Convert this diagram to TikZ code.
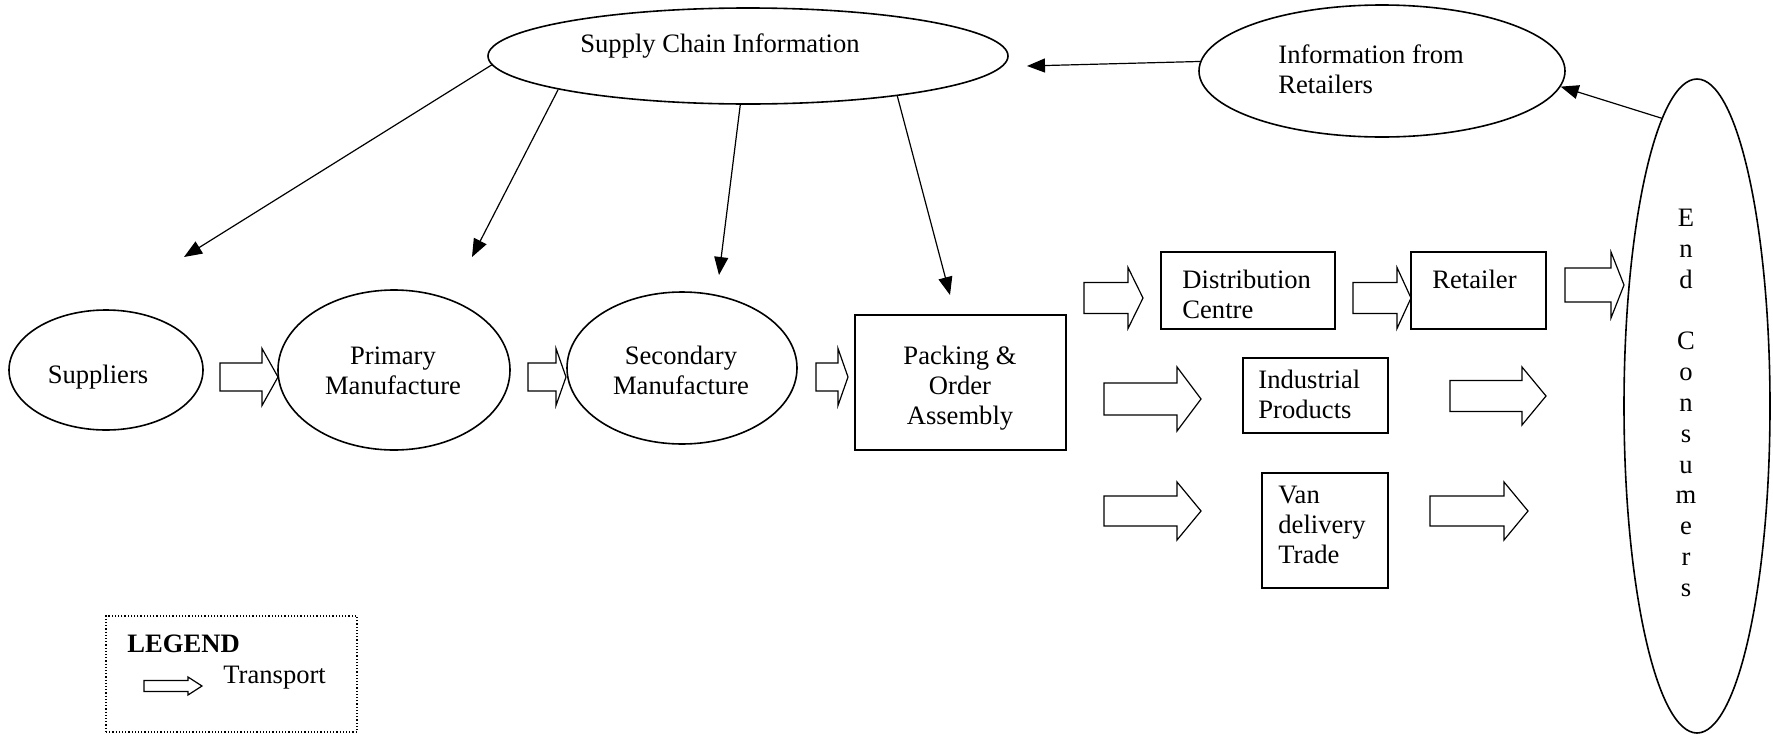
\documentclass[tikz,border=0pt]{standalone}
\usepackage{fontspec}
\setmainfont{Liberation Serif}
\usetikzlibrary{shapes.geometric,arrows.meta}

\tikzset{
  oval/.style={draw, ellipse, line width=0.8pt, inner sep=0pt},
  box/.style={draw, rectangle, line width=0.7pt, inner sep=0pt},
  txt/.style={font=\fontsize{13.3}{15}\selectfont, inner sep=0pt},
  infoarrow/.style={-{Triangle[length=9pt,width=7pt]}, line width=0.6pt},
  pics/transport/.style n args={4}{code={
    \draw[line width=0.6pt] (0,{-#2/2}) -- ({#1-#4},{-#2/2}) -- ({#1-#4},{-#3/2})
      -- (#1,0) -- ({#1-#4},{#3/2}) -- ({#1-#4},{#2/2}) -- (0,{#2/2}) -- cycle;
  }}
}

\begin{document}
\begin{tikzpicture}[x=0.5pt,y=-0.5pt]
\useasboundingbox (0,0) rectangle (1773,734);

% information side
\node[oval, minimum width=260pt, minimum height=48pt] (sci) at (748,56) {};
\node[txt] (sci-t) at (720,46) {Supply Chain Information};
\node[oval, minimum width=183pt, minimum height=66pt] (info) at (1382,71) {};
\node[txt, anchor=west, align=left] (info-t) at (1278,69) {Information from\\Retailers};
\node[oval, minimum width=73pt, minimum height=327pt] (ec) at (1697,406) {};
\node[txt, align=center, font=\fontsize{13.3}{15.4}\selectfont] (ec-t) at (1686,403)
  {E\\n\\d\\[15.4pt]C\\o\\n\\s\\u\\m\\e\\r\\s};

% product flow
\node[oval, minimum width=97pt, minimum height=60pt] (sup) at (106,370) {};
\node[txt] (sup-t) at (98,377) {Suppliers};
\node[oval, minimum width=116pt, minimum height=80pt] (prim) at (394,370) {};
\node[txt, align=center] (prim-t) at (393,371) {Primary\\Manufacture};
\node[oval, minimum width=115pt, minimum height=76pt] (sec) at (682,368) {};
\node[txt, align=center] (sec-t) at (681,370) {Secondary\\Manufacture};
\node[box, minimum width=105.5pt, minimum height=67.5pt] (pack) at (960.5,382.5) {};
\node[txt, align=center] (pack-t) at (960,388) {Packing \&\\Order\\Assembly};

\node[box, minimum width=87pt, minimum height=38.5pt] (dist) at (1248,290.5) {};
\node[txt, anchor=west, align=left] (dist-t) at (1182,294) {Distribution\\Centre};
\node[box, minimum width=67.5pt, minimum height=38.5pt] (ret) at (1478.5,290.5) {};
\node[txt, anchor=west] (ret-t) at (1432,279) {Retailer};
\node[box, minimum width=72.5pt, minimum height=37.5pt] (ind) at (1315.5,395.5) {};
\node[txt, anchor=west, align=left] (ind-t) at (1258,394) {Industrial\\Products};
\node[box, minimum width=63pt, minimum height=57.5pt] (van) at (1325,530.5) {};
\node[txt, anchor=west, align=left] (van-t) at (1278,525) {Van\\delivery\\Trade};

% information arrows
\coordinate (sup-in) at (184,257);
\coordinate (prim-in) at (472,257);
\coordinate (sec-in) at (719,275);
\coordinate (pack-in) at (950,295);
\coordinate (sci-in) at (1027,66);
\draw[infoarrow] (sci.182) -- (sup-in);
\draw[infoarrow] (sci.190.6) -- (prim-in);
\draw[infoarrow] (sci.261) -- (sec-in);
\draw[infoarrow] (sci.345) -- (pack-in);
\draw[infoarrow] (info.177) -- (sci-in);
\draw[infoarrow] (ec.97) -- (info.-5);

% transport
\pic at (220,377) {transport={58}{28}{57}{16}};
\pic at (528,377) {transport={38}{28}{57}{10}};
\pic at (816,377) {transport={32}{28}{57}{10}};
\pic at (1084,298) {transport={59}{31}{61}{15}};
\pic at (1353,298) {transport={58}{31}{61}{14}};
\pic at (1565,285) {transport={59}{34}{66}{13}};
\pic at (1104,399) {transport={97}{32}{64}{24}};
\pic at (1450,396) {transport={96}{31}{58}{24}};
\pic at (1104,511) {transport={97}{30}{58}{24}};
\pic at (1430,511) {transport={98}{30}{58}{24}};

% legend
\node[draw, densely dotted, line width=0.6pt, minimum width=125.5pt, minimum height=58pt] (legend) at (231.5,674) {};
\node[txt, anchor=west, font=\fontsize{13.3}{15}\selectfont\bfseries] (legend-t) at (127,644) {LEGEND};
\pic at (144,686) {transport={58}{11}{18}{14}};
\node[txt, anchor=west] (legend-tr) at (223,678) {Transport};
\end{tikzpicture}
\end{document}
